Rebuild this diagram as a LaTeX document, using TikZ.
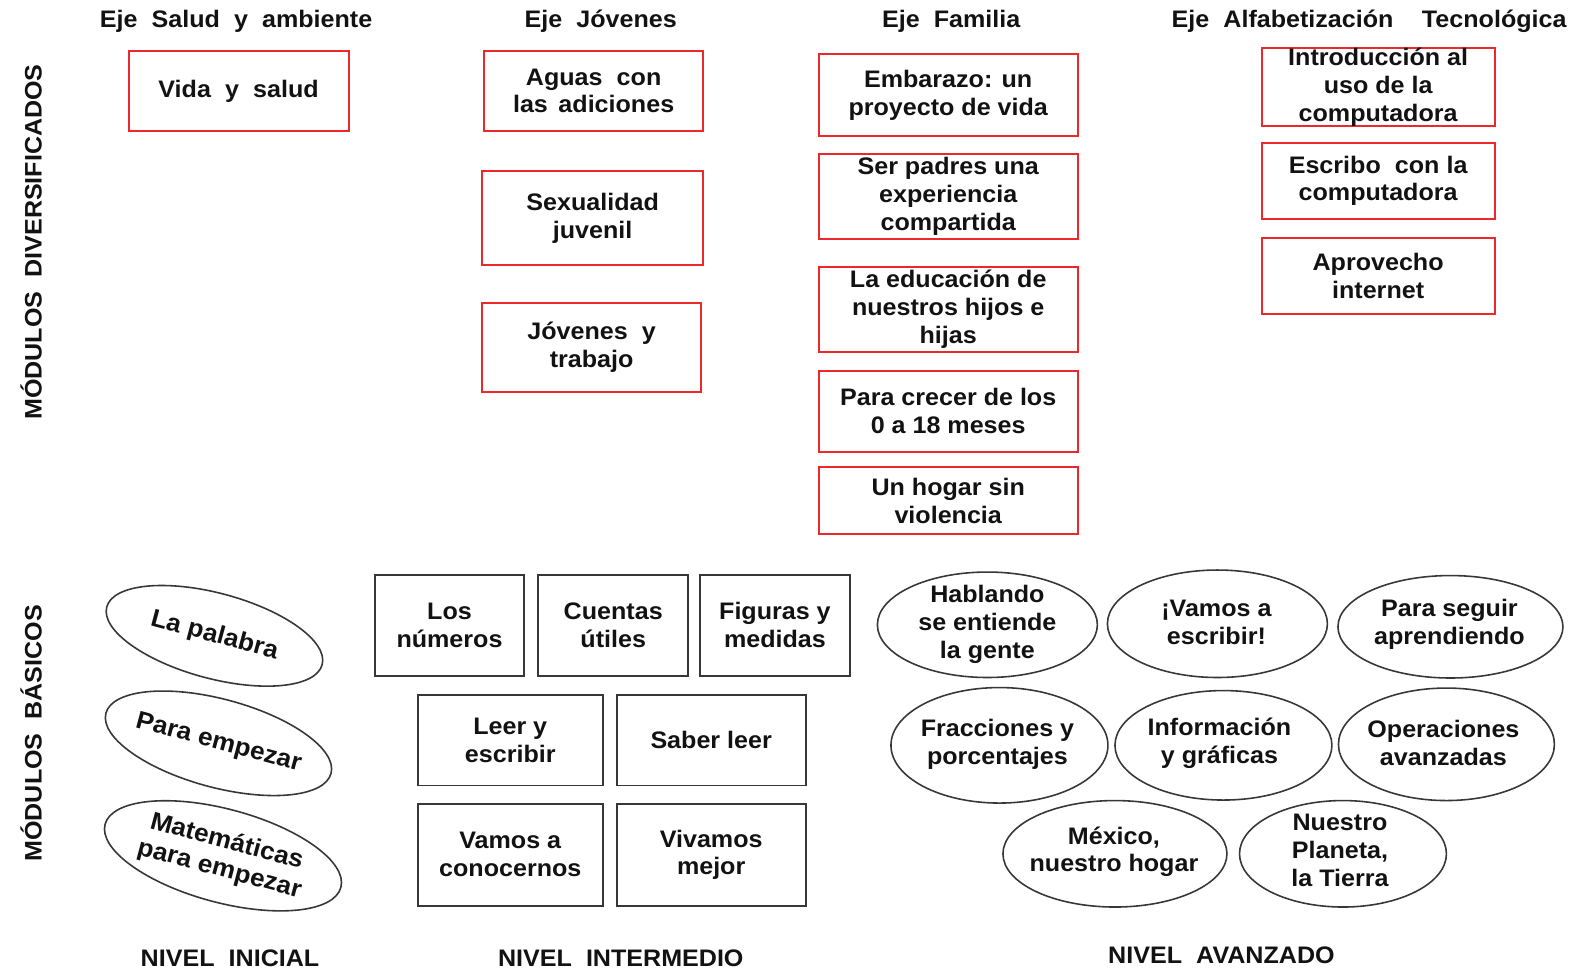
\documentclass[tikz,border=0pt]{standalone}
\usepackage{fontspec}
\setmainfont{Liberation Sans}[FakeStretch=1.05]
\usetikzlibrary{shapes.geometric}
\definecolor{rojo}{RGB}{236,40,44}
\definecolor{gris}{RGB}{55,55,55}
\definecolor{tinta}{RGB}{18,18,18}
\newcommand{\wsp}{\hspace{0.3em}}
\begin{document}
\begin{tikzpicture}[x=0.02009cm,y=-0.02009cm,
 sz/.style 2 args={minimum width=#1*0.02009cm,minimum height=#2*0.02009cm},
 txt/.style={font=\bfseries\fontsize{13.6}{15.9}\selectfont, text=tinta, align=center, inner sep=0pt},
 bigtxt/.style={font=\bfseries\fontsize{14.2}{16.2}\selectfont, text=tinta, align=center, inner sep=0pt},
 redbox/.style={txt, draw=rojo, line width=1.1pt, rectangle},
 blkbox/.style={txt, draw=gris, line width=1.1pt, rectangle},
 oval/.style={ellipse, draw=gris, line width=0.9pt, inner sep=0pt},
]
\useasboundingbox (0,0) rectangle (1568,965);

% headers
\node[txt] (h1) at (235,21) {Eje\wsp{} Salud\wsp{} y\wsp{} ambiente};
\node[txt] (h2) at (598,21) {Eje\wsp{} Jóvenes};
\node[txt] (h3) at (947,21) {Eje\wsp{} Familia};
\node[txt] (h4) at (1363,21) {Eje\wsp{} Alfabetización\hspace{0.9em} Tecnológica};

% vertical labels
\node[txt, rotate=90] (vd) at (31,241) {MÓDULOS\wsp{} DIVERSIFICADOS};
\node[txt, rotate=90] (vb) at (31,730) {MÓDULOS\wsp{} BÁSICOS};

% red boxes
\node[redbox, sz={219}{79}] (vida) at (237.5,90.5) {Vida\wsp{} y\wsp{} salud};
\node[redbox, sz={218}{79}] (aguas) at (591,90.5) {Aguas\wsp{} con\\las\hspace{0.15em} adiciones};
\node[redbox, sz={220}{94}] (sexu) at (590,217) {Sexualidad\\juvenil};
\node[redbox, sz={218}{88}] (jotra) at (589,346) {Jóvenes\wsp{} y\\trabajo};
\node[redbox, sz={258}{81}] (emba) at (944,94.5) {Embarazo: un\\proyecto de vida};
\node[redbox, sz={258}{85}] (padres) at (944,195.5) {Ser padres una\\experiencia\\compartida};
\node[redbox, sz={258}{84}] (educ) at (944,308) {La educación de\\nuestros hijos e\\hijas};
\node[redbox, sz={258}{81}] (crecer) at (944,409.5) {Para crecer de los\\0 a 18 meses};
\node[redbox, sz={258}{67}] (hogar) at (944,498.5) {Un hogar sin\\violencia};
\node[redbox, sz={232}{77}] (intro) at (1372,86.5) {Introducción al\\uso de la\\computadora};
\node[redbox, sz={232}{76}] (escr) at (1372,180) {Escribo\wsp{} con la\\computadora};
\node[redbox, sz={232}{76}] (aprov) at (1372,275) {Aprovecho\\internet};

% left rotated ovals
\node[oval, sz={222}{85}, rotate=-15] (pal) at (213.5,633) {};
\node[bigtxt, rotate=-15] (pal-t) at (pal.center) {La palabra};
\node[oval, sz={232}{88}, rotate=-15] (emp) at (217.5,740) {};
\node[bigtxt, rotate=-15] (emp-t) at (emp.center) {Para empezar};
\node[oval, sz={243}{93}, rotate=-15] (mat) at (222,852) {};
\node[bigtxt, rotate=-15] (mat-t) at (mat.center) {Matemáticas\\para empezar};

% intermediate boxes
\node[blkbox, sz={149}{101}] (num) at (447.5,622.5) {Los\\números};
\node[blkbox, sz={149}{101}] (cue) at (610.5,622.5) {Cuentas\\útiles};
\node[blkbox, sz={149}{101}] (fig) at (771.5,622.5) {Figuras y\\medidas};
\node[blkbox, sz={184}{90}] (lee) at (508,737) {Leer y\\escribir};
\node[blkbox, sz={188}{90}] (sab) at (708,737) {Saber leer};
\node[blkbox, sz={184}{102}] (con) at (508,851) {Vamos a\\conocernos};
\node[blkbox, sz={188}{102}] (viv) at (708,851) {Vivamos\\mejor};

% advanced ovals
\node[oval, sz={219}{105}] (hab) at (983,622) {};
\node[txt] (hab-t) at (hab.center) {Hablando\\se entiende\\la gente};
\node[oval, sz={219}{107}] (esc) at (1212,621) {};
\node[txt] (esc-t) at (1211,620) {¡Vamos a\\escribir!};
\node[oval, sz={224}{102}] (seg) at (1444,624) {};
\node[txt] (seg-t) at (1443,622) {Para seguir\\aprendiendo};
\node[oval, sz={216}{115}] (fra) at (995,742) {};
\node[txt] (fra-t) at (993,741) {Fracciones y\\porcentajes};
\node[oval, sz={216}{109}] (inf) at (1218,742) {};
\node[txt] (inf-t) at (1214,740) {Información\\y gráficas};
\node[oval, sz={215}{112}] (ope) at (1440,741) {};
\node[txt] (ope-t) at (1437,740) {Operaciones\\avanzadas};
\node[oval, sz={223}{106}] (mex) at (1110,850) {};
\node[txt] (mex-t) at (1109,848) {México,\\nuestro hogar};
\node[oval, sz={206}{106}] (pla) at (1337,850) {};
\node[txt] (pla-t) at (1334,847) {Nuestro\\Planeta,\\la Tierra};

% bottom labels
\node[txt] (n1) at (229,954) {NIVEL\wsp{} INICIAL};
\node[txt] (n2) at (618,954) {NIVEL\wsp{} INTERMEDIO};
\node[txt] (n3) at (1216,951) {NIVEL\wsp{} AVANZADO};
\end{tikzpicture}
\end{document}
